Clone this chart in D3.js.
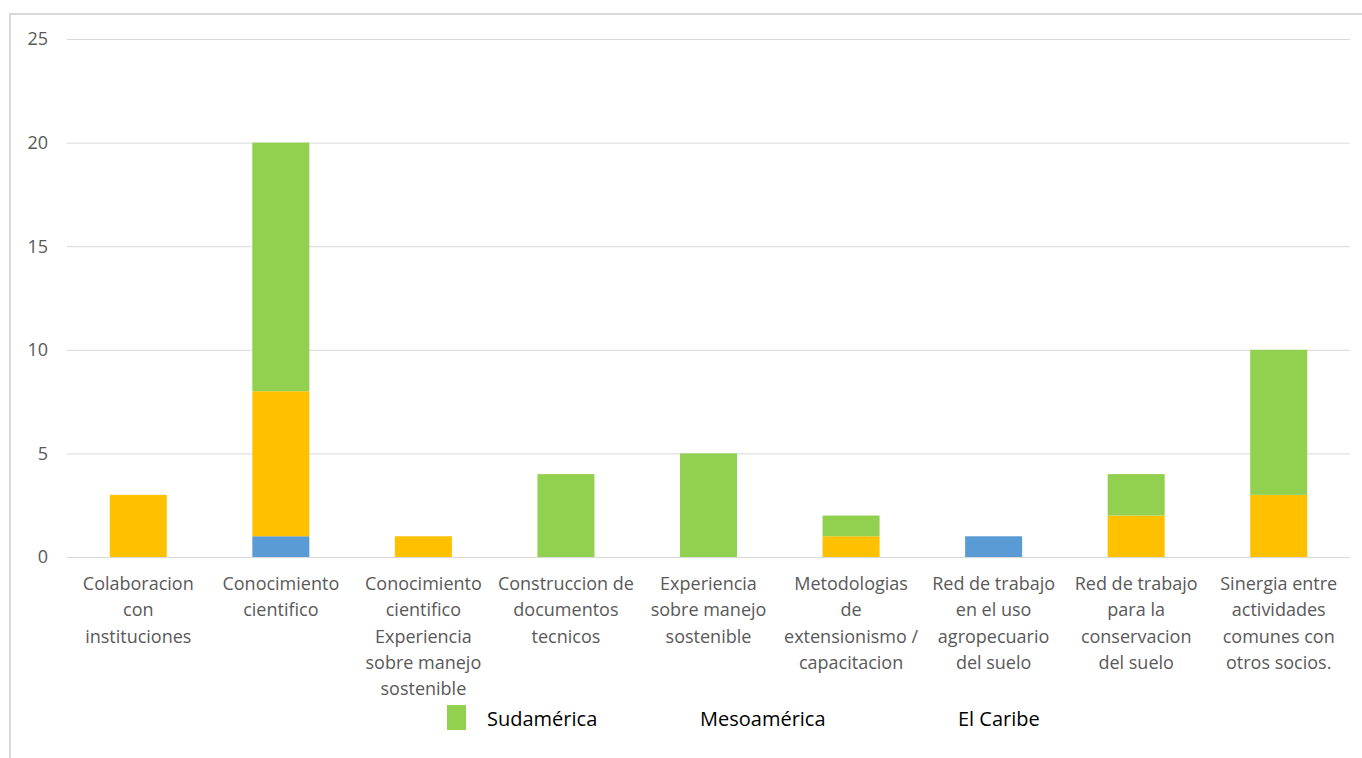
<!DOCTYPE html>
<html><head><meta charset="utf-8">
<script src="https://cdn.jsdelivr.net/npm/d3@7"></script>
<style>body{margin:0;background:#fff;}svg{display:block;}</style>
</head><body>
<svg id="c" width="1362" height="758"></svg>
<script>
const categories = [
  "Colaboracion\ncon\ninstituciones",
  "Conocimiento\ncientifico",
  "Conocimiento\ncientifico\nExperiencia\nsobre manejo\nsostenible",
  "Construccion de\ndocumentos\ntecnicos",
  "Experiencia\nsobre manejo\nsostenible",
  "Metodologias\nde\nextensionismo /\ncapacitacion",
  "Red de trabajo\nen el uso\nagropecuario\ndel suelo",
  "Red de trabajo\npara la\nconservacion\ndel suelo",
  "Sinergia entre\nactividades\ncomunes con\notros socios."
];
const seriesNames = ["El Caribe", "Mesoamérica", "Sudamérica"];
const elCaribe    = [0, 1, 0, 0, 0, 0, 1, 0, 0];
const mesoamerica = [3, 7, 1, 0, 0, 1, 0, 2, 3];
const sudamerica  = [0, 12, 0, 4, 5, 1, 0, 2, 7];
const yTicks = [0, 5, 10, 15, 20, 25];
const colors = {"El Caribe": "#5b9bd5", "Mesoamérica": "#ffc000", "Sudamérica": "#92d050"};

const svg = d3.select("#c");
// outer frame
svg.append("rect").attr("x", 10).attr("y", 14).attr("width", 1370).attr("height", 760)
  .attr("fill", "none").attr("stroke", "#d9d9d9").attr("stroke-width", 2);

const x = d3.scaleBand().domain(categories).range([67, 1350]).paddingInner(0.6).paddingOuter(0.3);
const y = d3.scaleLinear().domain([0, 25]).range([557, 39]);

// gridlines
svg.append("g").selectAll("line").data(yTicks).join("line")
  .attr("x1", 67).attr("x2", 1350)
  .attr("y1", d => y(d) + 0.5).attr("y2", d => y(d) + 0.5)
  .attr("stroke", "#d9d9d9").attr("stroke-width", 1);

// y labels
svg.append("g").selectAll("text").data(yTicks).join("text")
  .attr("x", 48).attr("y", d => y(d)).attr("dy", "0.35em")
  .attr("text-anchor", "end").attr("fill", "#595959")
  .attr("font-family", "Open Sans, sans-serif").attr("font-size", 18)
  .text(d => d);

const table = categories.map((c, i) => ({cat: c, "El Caribe": elCaribe[i], "Mesoamérica": mesoamerica[i], "Sudamérica": sudamerica[i]}));
const stack = d3.stack().keys(seriesNames)(table);

svg.append("g").selectAll("g").data(stack).join("g")
  .attr("fill", d => colors[d.key])
  .selectAll("rect").data(d => d.filter(p => p[1] > p[0])).join("rect")
  .attr("x", d => x(d.data.cat)).attr("width", x.bandwidth())
  .attr("y", d => y(d[1])).attr("height", d => y(d[0]) - y(d[1]));

// category labels
const lab = svg.append("g").selectAll("text").data(categories).join("text")
  .attr("x", d => x(d) + x.bandwidth() / 2)
  .attr("y", 590)
  .attr("text-anchor", "middle").attr("fill", "#595959")
  .attr("font-family", "Open Sans, sans-serif").attr("font-size", 18);
lab.selectAll("tspan").data(d => d.split("\n")).join("tspan")
  .attr("x", function() { return d3.select(this.parentNode).attr("x"); })
  .attr("dy", (d, i) => i === 0 ? 0 : 26.3)
  .text(d => d);

// legend
const legendX = {"Sudamérica": 487, "Mesoamérica": 700, "El Caribe": 958};
const lg = svg.append("g");
lg.append("rect").attr("x", 447).attr("y", 705).attr("width", 19).attr("height", 25).attr("fill", colors["Sudamérica"]);
lg.selectAll("text").data(["Sudamérica", "Mesoamérica", "El Caribe"]).join("text")
  .attr("x", d => legendX[d]).attr("y", 726)
  .attr("fill", "#000").attr("font-family", "Open Sans, sans-serif").attr("font-size", 20)
  .text(d => d);
</script>
</body></html>
